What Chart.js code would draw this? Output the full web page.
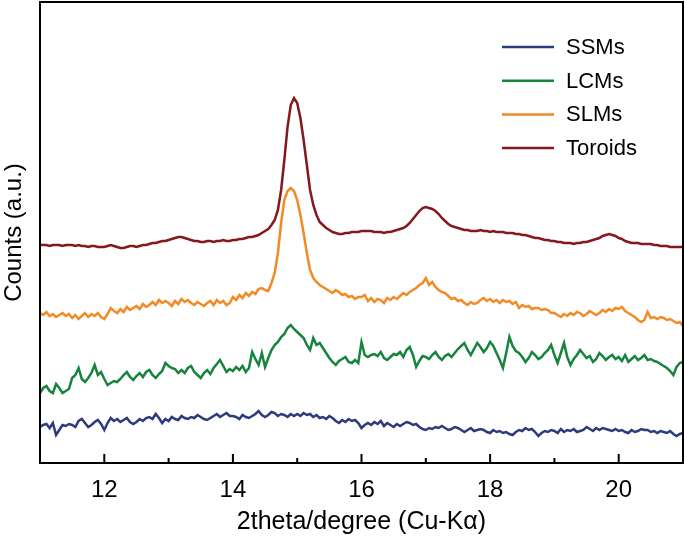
<!DOCTYPE html>
<html lang="en">
<head>
  <meta charset="UTF-8">
  <title>XRD patterns</title>
  <script src="https://cdn.jsdelivr.net/npm/chart.js"></script>
  <style>
    body {
      margin: 0;
      background: white;
    }
  </style>
</head>
<body>
  <canvas id="xrdChart" width="685" height="539"></canvas>

  <script>
    // 2theta grid: 11.00 .. 21.00, step 0.05
    const thetaStart = 11;
    const thetaStep = 0.05;

    const seriesNames = ['SSMs', 'LCMs', 'SLMs', 'Toroids'];
    const seriesColors = ['#2d3a7c', '#17843e', '#f28b26', '#84191d'];
    const majorTicks = [12, 14, 16, 18, 20];
    const minorTicks = [13, 15, 17, 19];

    // counts (a.u.), one row per degree
    const ssms = [
      36,38,39,35,40,28,33,38,37,39,38,36,42,44,40,36,38,41,43,39,
      33,40,45,42,44,41,43,45,41,39,41,44,42,45,46,44,49,45,40,44,
      42,46,44,43,47,45,44,46,45,48,46,44,43,45,47,49,46,48,50,47,
      47,46,44,48,46,45,47,49,52,48,46,48,51,50,47,49,48,46,49,47,
      49,47,50,48,49,46,48,45,46,44,47,45,42,40,43,41,44,42,43,40,
      35,38,40,38,41,39,42,37,40,38,36,39,37,39,41,40,38,39,36,34,
      33,35,34,36,35,37,35,33,34,36,35,33,31,33,35,32,33,34,33,31,
      30,33,31,32,30,31,29,28,31,33,32,35,33,34,31,27,30,32,31,33,
      32,30,34,31,33,32,34,31,32,33,36,34,32,35,33,35,34,33,32,34,
      32,33,31,30,33,31,32,34,33,33,31,32,30,32,31,30,32,29,27,29,
      30
    ];

    const lcms = [
      70,75,77,72,70,79,75,70,72,74,85,88,95,84,81,85,90,98,88,91,
      84,78,80,82,81,84,88,91,86,83,87,90,86,91,93,88,85,89,92,100,
      97,95,94,90,93,90,95,97,91,88,85,90,93,89,95,99,103,97,91,94,
      92,96,93,97,91,95,111,104,98,110,96,105,113,118,121,126,129,135,138,134,
      131,128,125,118,113,125,118,120,115,110,105,101,98,102,104,106,101,100,103,100,
      121,108,106,108,109,107,111,105,103,106,109,108,111,106,113,116,108,96,102,107,
      106,104,108,111,106,103,107,109,106,110,114,117,120,113,108,114,120,116,111,115,
      121,117,110,103,95,110,126,117,112,110,106,101,105,111,108,104,106,110,113,118,
      108,100,110,120,106,98,104,108,113,109,105,107,101,104,110,107,103,106,108,104,
      106,102,108,101,104,107,103,105,108,103,104,102,101,99,97,95,92,88,96,100,
      101
    ];

    const slms = [
      150,148,151,147,149,146,148,150,147,149,145,148,144,147,150,146,149,147,150,146,
      144,149,155,152,150,154,151,156,153,155,157,154,159,156,158,161,158,163,160,162,
      160,157,162,159,164,161,163,160,158,161,159,157,160,162,158,163,160,162,158,160,
      166,163,168,165,170,167,171,169,174,175,173,172,180,190,210,240,263,272,275,272,
      263,248,230,210,193,185,181,178,176,174,172,170,173,171,168,169,166,167,164,166,
      166,168,162,165,161,164,163,160,165,163,166,164,167,170,168,171,173,175,178,180,
      185,178,181,176,173,171,170,167,164,165,162,163,160,158,161,159,160,163,165,162,
      164,161,163,160,163,161,162,159,161,155,158,156,157,154,155,155,153,154,153,150,
      150,148,146,149,147,150,148,151,150,147,149,152,150,148,150,153,151,154,152,155,
      154,156,152,150,148,146,143,141,143,151,145,146,144,146,145,143,144,142,140,141,
      137
    ];

    const toroids = [
      218,218,218,217,218,218,218,217,218,218,218,217,218,217,217,216,217,217,216,216,
      216,217,218,217,216,215,215,216,217,217,216,217,218,218,219,220,220,221,222,222,
      223,224,225,226,226,225,224,223,222,222,221,221,222,222,221,222,222,223,222,222,
      223,223,224,224,225,226,226,227,228,230,232,234,238,243,253,273,303,336,358,365,
      360,345,323,298,273,258,248,241,238,235,233,231,230,229,229,230,230,231,231,231,
      232,232,232,232,231,231,231,230,231,231,232,233,234,235,237,240,244,248,252,255,
      256,255,254,252,249,245,242,239,237,236,235,234,233,233,232,232,232,233,232,232,
      231,232,231,231,231,230,230,230,229,229,228,228,227,226,225,225,224,223,223,222,
      222,221,221,220,220,220,219,220,220,221,221,222,223,224,225,227,228,229,228,227,
      225,224,222,221,220,220,220,219,219,219,219,218,218,217,217,217,216,216,216,216,
      216
    ];

    const seriesValues = [ssms, lcms, slms, toroids];

    function toPoints(values) {
      return values.map((v, i) => ({ x: +(thetaStart + i * thetaStep).toFixed(2), y: v }));
    }

    Chart.defaults.font.family = '"Liberation Sans", Arial, Helvetica, sans-serif';
    Chart.defaults.color = '#000';

    // box around the plot, inward ticks on the bottom axis and the legend
    const framePlugin = {
      id: 'framePlugin',
      afterDraw: (chart) => {
        const ctx = chart.ctx;
        const area = chart.chartArea;
        const xScale = chart.scales.x;
        ctx.save();
        ctx.strokeStyle = '#000';
        ctx.lineWidth = 2;
        ctx.strokeRect(area.left, area.top, area.right - area.left, area.bottom - area.top);

        majorTicks.concat(minorTicks).forEach((v) => {
          const x = xScale.getPixelForValue(v);
          const len = majorTicks.includes(v) ? 9 : 5;
          ctx.beginPath();
          ctx.moveTo(x, area.bottom);
          ctx.lineTo(x, area.bottom - len);
          ctx.stroke();
        });

        ctx.font = '22px "Liberation Sans", Arial, Helvetica, sans-serif';
        ctx.textBaseline = 'middle';
        ctx.textAlign = 'left';
        chart.data.datasets.forEach((ds, i) => {
          const y = area.top + 45 + i * 33.7;
          ctx.beginPath();
          ctx.strokeStyle = ds.borderColor;
          ctx.lineWidth = 2.5;
          ctx.moveTo(area.right - 181, y);
          ctx.lineTo(area.right - 129, y);
          ctx.stroke();
          ctx.fillStyle = '#000';
          ctx.fillText(ds.label, area.right - 117, y + 1);
        });
        ctx.restore();
      }
    };

    const ctx = document.getElementById('xrdChart').getContext('2d');
    const xrdChart = new Chart(ctx, {
      type: 'line',
      data: {
        datasets: seriesNames.map((name, i) => ({
          label: name,
          data: toPoints(seriesValues[i]),
          borderColor: seriesColors[i],
          borderWidth: 2.5,
          pointRadius: 0,
          tension: 0,
          fill: false
        }))
      },
      options: {
        responsive: false,
        animation: false,
        layout: {
          padding: { top: 2, right: 2, left: 0, bottom: 0 }
        },
        plugins: {
          legend: { display: false },
          tooltip: { enabled: false }
        },
        scales: {
          x: {
            type: 'linear',
            min: 11,
            max: 21,
            grid: { display: false, drawTicks: false },
            border: { display: false },
            ticks: {
              stepSize: 1,
              autoSkip: false,
              maxRotation: 0,
              padding: 13,
              font: { size: 24 },
              callback: (value) => (majorTicks.includes(value) ? value : '')
            },
            title: {
              display: true,
              text: '2theta/degree (Cu-K\u03b1)',
              font: { size: 25 },
              padding: { top: 0, bottom: 2 }
            },
            afterFit: (scale) => {
              scale.height = 76;
              scale.paddingLeft = 0;
              scale.paddingRight = 0;
            }
          },
          y: {
            min: 0,
            max: 461,
            grid: { display: false, drawTicks: false },
            border: { display: false },
            ticks: { display: false },
            title: {
              display: true,
              text: 'Counts (a.u.)',
              font: { size: 24 },
              padding: 0
            },
            afterFit: (scale) => { scale.width = 40; }
          }
        }
      },
      plugins: [framePlugin]
    });
  </script>
</body>
</html>
